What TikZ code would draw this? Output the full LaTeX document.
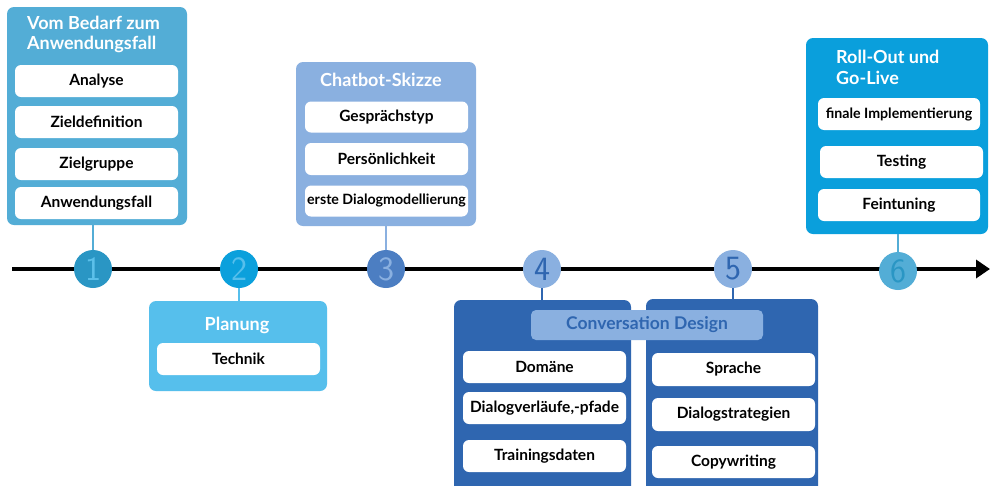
\documentclass[tikz,border=0pt]{standalone}
\usepackage{fontspec}
\setmainfont{Lato}
\usetikzlibrary{arrows.meta}
\definecolor{cA}{HTML}{53ADD6}
\definecolor{cAd}{HTML}{2A96C4}
\definecolor{cAl}{HTML}{5CC0EA}
\definecolor{cB}{HTML}{56BFEC}
\definecolor{cBd}{HTML}{0BA0DC}
\definecolor{cC}{HTML}{8AB0E0}
\definecolor{cCd}{HTML}{4C7EC2}
\definecolor{cD}{HTML}{2F66B0}
\definecolor{cE}{HTML}{0A9FDC}
\tikzset{
  panel/.style={rounded corners=7pt, inner sep=0pt},
  item/.style={fill=white, rounded corners=6pt, inner sep=0pt, font=\fontsize{15.5}{18}\selectfont\bfseries, text=black},
  smallitem/.style={font=\fontsize{14.2}{16}\selectfont\bfseries},
  ttl/.style={text=white, font=\fontsize{18}{20}\selectfont\bfseries, inner sep=0pt},
  num/.style={circle, minimum size=38pt, inner sep=0pt, font=\sffamily\fontsize{34}{34}\selectfont},
  conn/.style={line width=2pt},
}
\begin{document}
\begin{tikzpicture}[x=1pt,y=-1pt]
\clip (0,0) rectangle (992,485);
\fill[white] (0,0) rectangle (992,485);
% timeline
\coordinate (tl0) at (12,269);
\coordinate (tl1) at (990,269);
\draw[line width=4pt, -{Triangle[length=14pt,width=18pt]}] (tl0) -- (tl1);

% panel 1
\node[panel, fill=cA, minimum width=180pt, minimum height=218pt] (p1) at (97,116) {};
\node[ttl, anchor=base west] (t1a) at (27,29) {Vom Bedarf zum};
\node[ttl, anchor=base west] (t1b) at (27,49) {Anwendungsfall};
\node[item, minimum width=163pt, minimum height=32pt] (a1) at (96.5,81) {Analyse};
\node[item, minimum width=163pt, minimum height=32pt] (a2) at (96.5,122) {Zieldefinition};
\node[item, minimum width=163pt, minimum height=32pt] (a3) at (96.5,164) {Zielgruppe};
\node[item, minimum width=163pt, minimum height=32pt] (a4) at (96.5,203) {Anwendungsfall};

% panel 2
\node[panel, fill=cB, minimum width=178pt, minimum height=90pt] (p2) at (238,346) {};
\node[ttl, anchor=base] (t2) at (237,330) {Planung};
\node[item, minimum width=163pt, minimum height=32pt] (b1) at (238.5,359) {Technik};

% panel 3
\node[panel, fill=cC, minimum width=180pt, minimum height=164pt] (p3) at (386,144) {};
\node[ttl, anchor=base west] (t3) at (320,86) {Chatbot-Skizze};
\node[item, minimum width=163pt, minimum height=31pt] (c1) at (386.5,117) {Gesprächstyp};
\node[item, minimum width=163pt, minimum height=32pt] (c2) at (386.5,159) {Persönlichkeit};
\node[item, smallitem, minimum width=163pt, minimum height=31pt] (c3) at (386.5,201) {erste Dialogmodellierung};

% panel 4
\node[panel, fill=cD, minimum width=177pt, minimum height=200pt] (p4) at (542.5,400) {};
\node[item, minimum width=163pt, minimum height=32pt] (d1) at (544.5,367) {Domäne};
\node[item, minimum width=163pt, minimum height=32pt] (d2) at (544.5,408) {Dialogverläufe,-pfade};
\node[item, minimum width=163pt, minimum height=32pt] (d3) at (544.5,456) {Trainingsdaten};

% panel 5
\node[panel, fill=cD, minimum width=172pt, minimum height=200pt] (p5) at (732,399) {};
\node[item, minimum width=163pt, minimum height=33pt] (e1) at (733.5,369.5) {Sprache};
\node[item, minimum width=163pt, minimum height=33pt] (e2) at (733.5,414.5) {Dialogstrategien};
\node[item, minimum width=163pt, minimum height=32pt] (e3) at (733.5,462) {Copywriting};

% conversation design banner
\node[fill=cC, rounded corners=5pt, minimum width=232pt, minimum height=30pt, inner sep=0pt, text=cD, font=\fontsize{17.5}{20}\selectfont\bfseries] (cd) at (647,325) {Conversation Design};

% panel 6
\node[panel, fill=cE, minimum width=182pt, minimum height=196pt] (p6) at (897,136) {};
\node[ttl, anchor=base west] (t6a) at (836,63) {Roll-Out und};
\node[ttl, anchor=base west] (t6b) at (836,84) {Go-Live};
\node[item, smallitem, minimum width=162pt, minimum height=32pt] (f1) at (899,114) {finale Implementierung};
\node[item, minimum width=163pt, minimum height=32pt] (f2) at (901.5,162) {Testing};
\node[item, minimum width=162pt, minimum height=32pt] (f3) at (899,205) {Feintuning};

% circles
\node[num, fill=cAd, text=cAl] (n1) at (93,269) {1};
\node[num, fill=cBd, text=cB] (n2) at (239,269) {2};
\node[num, fill=cCd, text=cC] (n3) at (386,269) {3};
\node[num, fill=cC, text=cD] (n4) at (542,269) {4};
\node[num, fill=cC, text=cD] (n5) at (733,269) {5};
\node[num, fill=cA, text=cAd] (n6) at (898,271) {6};

% connectors
\draw[conn, draw=cA] (p1.south -| n1) -- (n1.north);
\draw[conn, draw=cB] (n2.south) -- (p2.north -| n2);
\draw[conn, draw=cC] (p3.south -| n3) -- (n3.north);
\draw[conn, draw=cD] (n4.south) -- (p4.north -| n4);
\draw[conn, draw=cD] (n5.south) -- (p5.north -| n5);
\draw[conn, draw=cA] (p6.south -| n6) -- (n6.north);
\end{tikzpicture}
\end{document}
